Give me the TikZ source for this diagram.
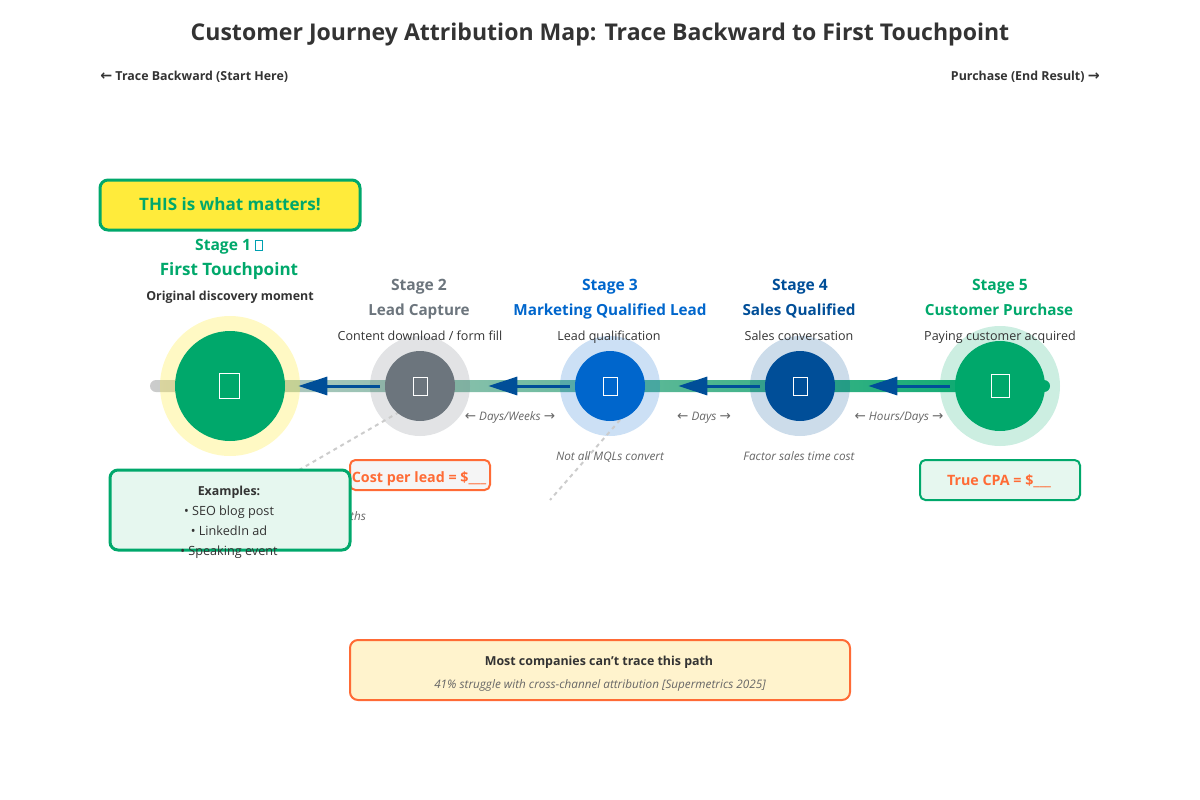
\documentclass[tikz,border=0pt]{standalone}
\usepackage{fontspec}
\setmainfont{Open Sans}
\newfontfamily\arrowfont[Scale=1.15]{DejaVu Sans}
\usetikzlibrary{arrows.meta}

\definecolor{inkdark}{HTML}{333333}
\definecolor{inksoft}{HTML}{666666}
\definecolor{growgreen}{HTML}{00A86B}
\definecolor{mintfill}{HTML}{E6F7EF}
\definecolor{hotorange}{HTML}{FF6B35}
\definecolor{sunyellow}{HTML}{FFEB3B}
\definecolor{slategray}{HTML}{6C757D}
\definecolor{midblue}{HTML}{0066CC}
\definecolor{deepblue}{HTML}{004E98}
\definecolor{creamfill}{HTML}{FFF3CD}
\definecolor{paperfill}{HTML}{F5F5F5}
\definecolor{tofuteal}{HTML}{00A0B0}

\newcommand{\tofubox}{{\fboxsep=0pt\fboxrule=.45pt\color{tofuteal}\fbox{\rule{0pt}{7pt}\hspace{5pt}}}}
\newcommand{\larr}{{\arrowfont ←}}
\newcommand{\rarr}{{\arrowfont →}}

\tikzset{
    halo/.style={circle, inner sep=0pt, fill opacity=.2},
    core/.style={circle, inner sep=0pt},
    tofu/.style={draw=white, line width=.75pt, inner sep=0pt},
    label/.style={anchor=base, inner sep=0pt},
    stagehead/.style={label, font=\fontsize{11.7}{14}\selectfont\bfseries},
    stagename/.style={label, font=\fontsize{11.46}{14}\selectfont\bfseries},
    bigname/.style={label, font=\fontsize{12.8}{16}\selectfont\bfseries, text=growgreen},
    stagesub/.style={label, font=\fontsize{9.4}{11}\selectfont, text=inkdark},
    boldnote/.style={label, font=\fontsize{9.3}{11}\selectfont\bfseries, text=inkdark},
    gaplabel/.style={label, font=\fontsize{8.8}{10}\selectfont\itshape, text=inksoft},
    flowarrow/.style={draw=deepblue, line width=2.25pt, shorten <=3.75pt,
        -{Triangle[length=21.75pt, width=13.5pt]}},
    leader/.style={draw=black!20, line width=1.5pt, dash pattern=on 3pt off 3pt},
    notebox/.style={draw=growgreen, fill=mintfill, rounded corners=6pt, line width=2.25pt},
    costtext/.style={label, font=\fontsize{10.7}{12}\selectfont\bfseries, text=hotorange},
    exampletext/.style={label, font=\fontsize{9.5}{11}\selectfont, text=inkdark},
}

\begin{document}
\begin{tikzpicture}[x=.75pt, y=-.75pt]
\useasboundingbox (0,0) rectangle (1200,800);

\node[label, font=\fontsize{17.3}{22}\selectfont\bfseries, text=inkdark] (title) at (600,40)
    {Customer Journey Attribution Map: Trace Backward to First Touchpoint};
\node[boldnote, anchor=base west] (startnote) at (100,80)
    {\larr{} Trace Backward (Start Here)};
\node[boldnote, anchor=base east] (endnote) at (1100,80)
    {Purchase (End Result) \rarr};

% journey line
\shade[left color=black!20, right color=growgreen, rounded corners=4.5pt] (150,380) rectangle (1050,392);

% halos
\node[halo, fill=sunyellow, fill opacity=.3, minimum size=105pt] (halo1) at (230,386) {};
\node[halo, fill=slategray, minimum size=75pt] (halo2) at (420,386) {};
\node[halo, fill=midblue, minimum size=75pt] (halo3) at (610,386) {};
\node[halo, fill=deepblue, minimum size=75pt] (halo4) at (800,386) {};
\node[halo, fill=growgreen, minimum size=90pt] (halo5) at (1000,386) {};

% callout leaders
\coordinate (leadanchor) at (420,400);
\coordinate (mqlanchor) at (620,420);
\coordinate (mqlend) at (550,500);
\coordinate (examplecentre) at (230,510);
\draw[leader] (leadanchor) -- (examplecentre);
\draw[leader] (mqlanchor) -- (mqlend);

% stages
\node[core, fill=growgreen, minimum size=82.5pt] (stage1) at (230,386) {};
\node[core, fill=slategray, minimum size=52.5pt] (stage2) at (420,386) {};
\node[core, fill=midblue, minimum size=52.5pt] (stage3) at (610,386) {};
\node[core, fill=deepblue, minimum size=52.5pt] (stage4) at (800,386) {};
\node[core, fill=growgreen, minimum size=67.5pt] (stage5) at (1000,386) {};

\node[tofu, minimum width=15pt, minimum height=18.75pt] (icon1) at (229,386) {};
\node[tofu, minimum width=10.5pt, minimum height=13.5pt] (icon2) at (420,386) {};
\node[tofu, minimum width=10.5pt, minimum height=13.5pt] (icon3) at (610,386) {};
\node[tofu, minimum width=10.5pt, minimum height=13.5pt] (icon4) at (800,386) {};
\node[tofu, minimum width=13.5pt, minimum height=17.25pt] (icon5) at (1000,386) {};

% arrows run backward
\draw[flowarrow, shorten >=24.75pt] (stage5) -- (stage4);
\draw[flowarrow, shorten >=24.75pt] (stage4) -- (stage3);
\draw[flowarrow, shorten >=24.75pt] (stage3) -- (stage2);
\draw[flowarrow, shorten >=9.75pt] (stage2) -- (stage1);

% stage 1 texts
\node[draw=growgreen, fill=sunyellow, rounded corners=6pt, line width=2.25pt,
    minimum width=195pt, minimum height=37.5pt, inner sep=0pt] (matters) at (230,205) {};
\node[bigname] (matterstext) at (230,210) {THIS is what matters!};
\node[stagehead, text=growgreen] (head1) at (229,250) {Stage 1 \tofubox};
\node[bigname] (name1) at (229,275) {First Touchpoint};
\node[boldnote] (sub1) at (230,300) {Original discovery moment};

% stage 2 to 5 texts
\node[stagehead, text=slategray] (head2) at (419,290) {Stage 2};
\node[stagename, text=slategray] (name2) at (419,315) {Lead Capture};
\node[stagesub] (sub2) at (420,340) {Content download / form fill};
\node[stagehead, text=midblue] (head3) at (610,290) {Stage 3};
\node[stagename, text=midblue] (name3) at (610,315) {Marketing Qualified Lead};
\node[stagesub] (sub3) at (609,340) {Lead qualification};
\node[stagehead, text=deepblue] (head4) at (800,290) {Stage 4};
\node[stagename, text=deepblue] (name4) at (799,315) {Sales Qualified};
\node[stagesub] (sub4) at (799,340) {Sales conversation};
\node[stagehead, text=growgreen] (head5) at (1000,290) {Stage 5};
\node[stagename, text=growgreen] (name5) at (999,315) {Customer Purchase};
\node[stagesub] (sub5) at (1000,340) {Paying customer acquired};

% time gaps and notes
\node[gaplabel] (gap23) at (510,420) {\larr{} Days/Weeks \rarr};
\node[gaplabel] (gap34) at (704,420) {\larr{} Days \rarr};
\node[gaplabel] (gap45) at (899,420) {\larr{} Hours/Days \rarr};
\node[gaplabel] (note3) at (610,460) {Not all MQLs convert};
\node[gaplabel] (note4) at (799,460) {Factor sales time cost};
\node[gaplabel] (cutnote) at (358,520) {ths};

% boxes under the stages
\node[draw=hotorange, fill=paperfill, rounded corners=4pt, line width=1.5pt,
    minimum width=105pt, minimum height=22.5pt, inner sep=0pt] (costlead) at (420,475) {};
\node[costtext] (costleadtext) at (419,482) {Cost per lead = \$\_\_\_};
\node[notebox, line width=1.5pt, rounded corners=4pt, minimum width=120pt, minimum height=30pt, inner sep=0pt] (truecpa) at (1000,480) {};
\node[costtext] (truecpatext) at (999,485) {True CPA = \$\_\_\_};

\node[notebox, minimum width=180pt, minimum height=60pt, inner sep=0pt] (examples) at (examplecentre) {};
\node[boldnote] (examplehead) at (229,495) {Examples:};
\node[exampletext] (example1) at (229,515) {• SEO blog post};
\node[exampletext] (example2) at (229,535) {• LinkedIn ad};
\node[exampletext] (example3) at (229,555) {• Speaking event};

% bottom callout
\node[draw=hotorange, fill=creamfill, rounded corners=6pt, line width=1.5pt,
    minimum width=375pt, minimum height=45pt, inner sep=0pt] (pathbox) at (600,670) {};
\node[boldnote] (pathhead) at (599,665) {Most companies can't trace this path};
\node[gaplabel] (pathnote) at (600,688) {41\% struggle with cross-channel attribution [Supermetrics 2025]};

\end{tikzpicture}
\end{document}
